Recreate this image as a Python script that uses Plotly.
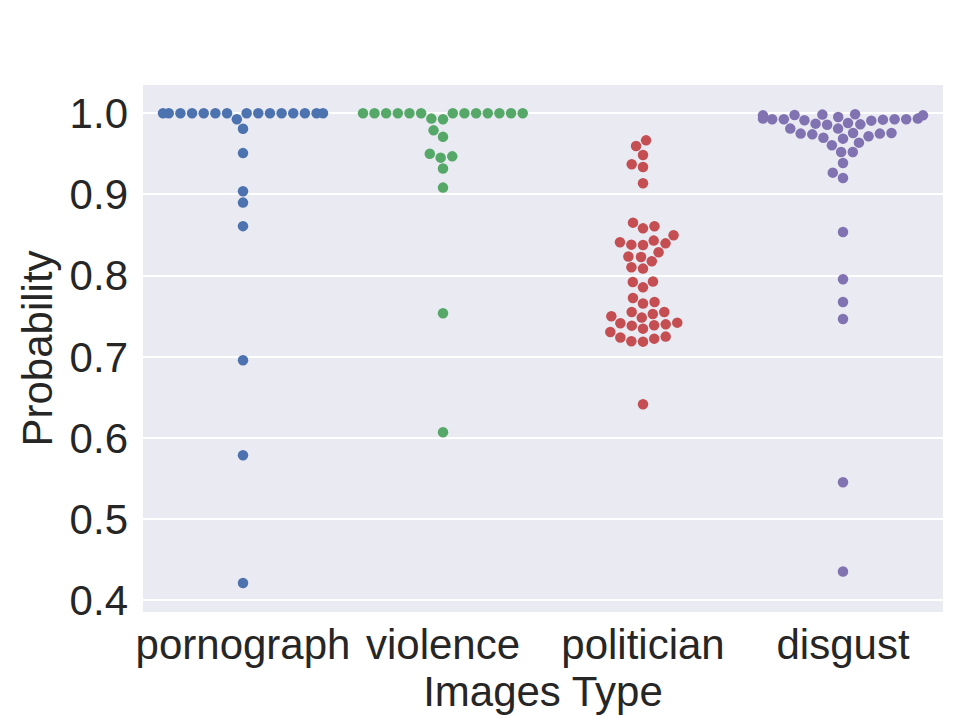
import numpy as np
import plotly.graph_objects as go

# ---------------- data ----------------
categories = ["pornograph", "violence", "politician", "disgust"]
colors = ["#4C72B0", "#55A868", "#C44E52", "#8172B2"]

pornograph = [1.0] * 15 + [0.9926, 0.981, 0.951, 0.904, 0.890, 0.861,
                           0.6957, 0.5787, 0.4213]
violence = [1.0] * 13 + [0.9935, 0.9926, 0.979, 0.971, 0.9503, 0.947,
                         0.9454, 0.932, 0.9085, 0.7536, 0.607]
politician = [0.9667, 0.9597, 0.9487, 0.9372, 0.9338, 0.9138,
              0.8653, 0.8608, 0.8583, 0.8497, 0.8411, 0.8382, 0.8378, 0.8398,
              0.8432, 0.8288, 0.8235, 0.8230, 0.8177, 0.8103, 0.8087, 0.7922,
              0.7927, 0.7856, 0.7725, 0.7675, 0.7656, 0.7552, 0.7527, 0.7483,
              0.7499, 0.7552, 0.7421, 0.7400, 0.7384, 0.7306, 0.7347, 0.7388,
              0.7413, 0.7237, 0.7191, 0.7187, 0.7224, 0.7249, 0.6415]
disgust = [0.9984, 0.9935, 0.9926, 0.9922, 0.991, 0.9873, 0.9975, 0.9926,
           0.9935, 0.9975, 0.9988, 0.986, 0.9864, 0.988, 0.9914, 0.9926,
           0.9926, 0.9955, 0.998,
           0.9757, 0.975, 0.9717, 0.9812, 0.9812, 0.9688, 0.9741, 0.97,
           0.975, 0.9757, 0.9639, 0.9606, 0.9523, 0.9523, 0.9388, 0.9269,
           0.9203,
           0.8538, 0.7955, 0.7675, 0.7466, 0.5454, 0.4354]
series = [pornograph, violence, politician, disgust]

y_ticks = [0.4, 0.5, 0.6, 0.7, 0.8, 0.9, 1.0]

# ---------------- layout geometry ----------------
W, H = 961, 719
ML, MR, MT, MB = 143, 18, 85, 107
y_range = [0.3856, 1.0349]
x_range = [-0.5, 3.5]
plot_w = W - ML - MR
plot_h = H - MT - MB
px_per_x = plot_w / (x_range[1] - x_range[0])
px_per_y = plot_h / (y_range[1] - y_range[0])

D = 11.1          # swarm separation (px)
MARKER = 10.5     # drawn marker diameter (px)
HALF_W = 0.4 * px_per_x  # gutter half-width (px)


def beeswarm(vals):
    """seaborn-like swarm placement; returns x offsets in px."""
    vals = np.asarray(vals, float)
    order = np.argsort(vals, kind="mergesort")
    ys = vals[order] * px_per_y
    swarm = [(0.0, ys[0])]
    for y_i in ys[1:]:
        neigh = []
        for (xj, yj) in reversed(swarm):
            if y_i - yj < D:
                neigh.append((xj, yj))
            else:
                break
        neigh = list(reversed(neigh))
        cands = [(0.0, y_i)]
        left_first = True
        for (xj, yj) in neigh:
            dy = y_i - yj
            dx = np.sqrt(max(D ** 2 - dy ** 2, 0)) * 1.05
            cl, cr = (xj - dx, y_i), (xj + dx, y_i)
            cands.extend([cl, cr] if left_first else [cr, cl])
            left_first = not left_first
        cands.sort(key=lambda c: abs(c[0]))
        chosen = cands[0]
        if neigh:
            nx = np.array([n[0] for n in neigh])
            ny = np.array([n[1] for n in neigh])
            for c in cands:
                if np.all((nx - c[0]) ** 2 + (ny - c[1]) ** 2 >= D ** 2 - 1e-9):
                    chosen = c
                    break
        swarm.append(chosen)
    offs = np.clip(np.array([s[0] for s in swarm]), -HALF_W, HALF_W)
    out = np.empty_like(offs)
    out[order] = offs
    return out


fig = go.Figure()
for i, (name, vals) in enumerate(zip(categories, series)):
    offs = beeswarm(vals)
    fig.add_trace(go.Scatter(
        x=i + offs / px_per_x, y=vals, mode="markers", name=name,
        marker=dict(size=MARKER, color=colors[i], line=dict(width=0)),
        showlegend=False, hoverinfo="y"))

font_family = "Liberation Sans, Arial, sans-serif"
txt = "#262626"
fig.update_layout(
    width=W, height=H,
    margin=dict(l=ML, r=MR, t=MT, b=MB),
    paper_bgcolor="white", plot_bgcolor="#EAEAF2",
    font=dict(family=font_family, color=txt, size=42),
)
fig.update_xaxes(
    range=x_range, tickmode="array", tickvals=list(range(len(categories))),
    ticktext=categories, showgrid=False, zeroline=False, showline=False,
    ticks="", tickfont=dict(size=42, color=txt), ticklabelstandoff=4,
    title=dict(text="Images Type", font=dict(size=42, color=txt), standoff=0),
)
fig.update_yaxes(
    range=y_range, tickmode="array", tickvals=y_ticks,
    ticktext=[f"{v:.1f}" for v in y_ticks],
    showgrid=True, gridcolor="white", gridwidth=2, zeroline=False,
    showline=False, ticks="", tickfont=dict(size=42, color=txt),
    ticklabelstandoff=14,
    title=dict(text="Probability", font=dict(size=42, color=txt), standoff=3),
)
fig.write_html("out.html")
